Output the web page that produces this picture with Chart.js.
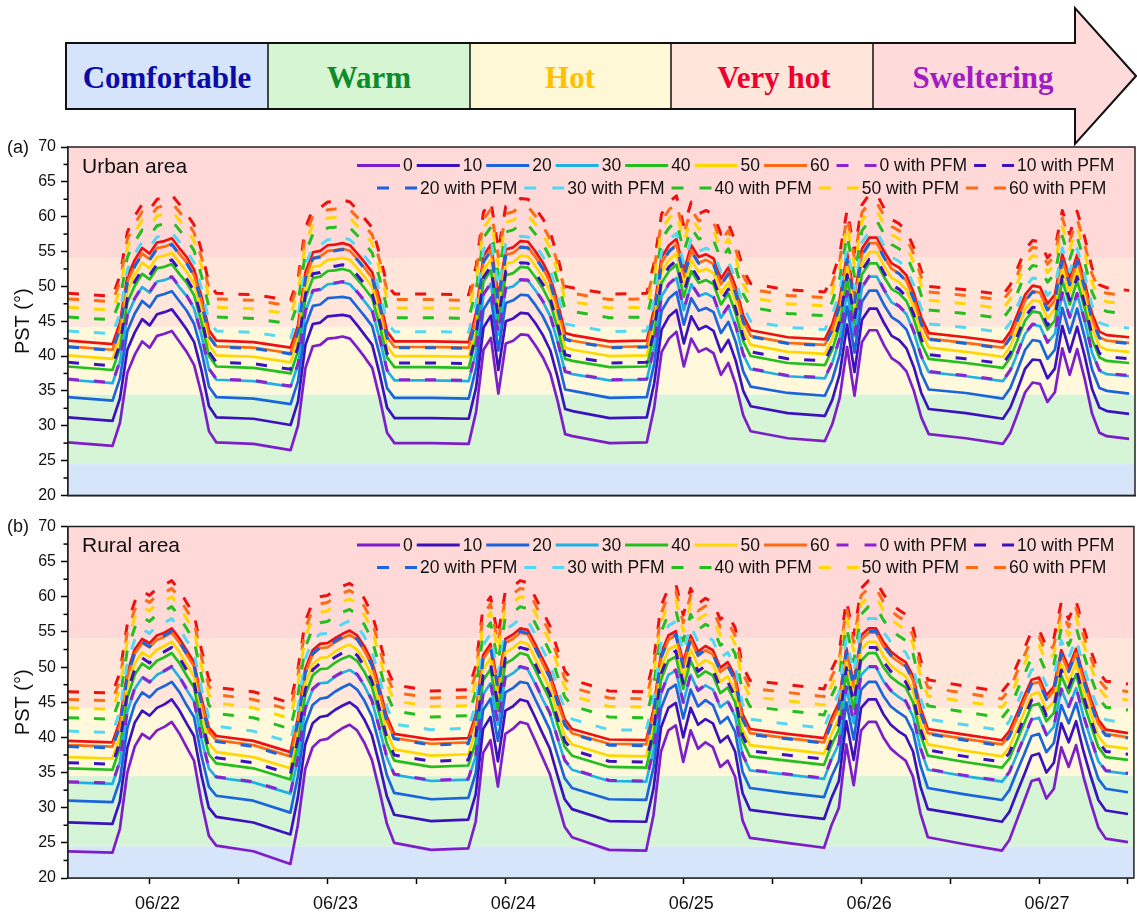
<!DOCTYPE html>
<html>
<head>
<meta charset="utf-8">
<title>PST urban / rural</title>
<script src="https://cdn.jsdelivr.net/npm/chart.js@4.4.1/dist/chart.umd.min.js"></script>
<style>
  html, body { margin: 0; padding: 0; background: #fff; }
  #page { position: relative; width: 1137px; height: 918px; overflow: hidden; font-family: "Liberation Sans", Arial, sans-serif; }
  #banner { position: absolute; left: 0; top: 0; }
  .panel { position: absolute; left: 0; width: 1137px; }
  #wrapA { top: 130px; height: 380px; }
  #wrapB { top: 510px; height: 408px; }
  .tag { position: absolute; left: 7px; font-size: 18px; color: #111; line-height: 21px; }
</style>
</head>
<body>
<div id="page">
  <svg id="banner" width="1137" height="148" xmlns="http://www.w3.org/2000/svg">
    <rect x="66" y="43" width="202" height="66" fill="#D5E4FA"/>
    <rect x="268" y="43" width="202" height="66" fill="#D5F5D3"/>
    <rect x="470" y="43" width="201" height="66" fill="#FFF8D6"/>
    <rect x="671" y="43" width="202" height="66" fill="#FFE6DA"/>
    <polygon points="873,43 1075,43 1075,8 1136,76 1075,144 1075,109 873,109" fill="#FFDADA"/>
    <polygon points="66,43 1075,43 1075,8 1136,76 1075,144 1075,109 66,109" fill="none" stroke="#111" stroke-width="2"/>
    <line x1="268" y1="43" x2="268" y2="109" stroke="#111" stroke-width="1.5"/>
    <line x1="470" y1="43" x2="470" y2="109" stroke="#111" stroke-width="1.5"/>
    <line x1="671" y1="43" x2="671" y2="109" stroke="#111" stroke-width="1.5"/>
    <line x1="873" y1="43" x2="873" y2="109" stroke="#111" stroke-width="1.5"/>
    <g font-family="Liberation Serif, Times New Roman, serif" font-weight="bold" font-size="31" text-anchor="middle">
      <text x="167" y="88" fill="#0B0BA8">Comfortable</text>
      <text x="369" y="88" fill="#0E8B2B">Warm</text>
      <text x="570" y="88" fill="#FFC000">Hot</text>
      <text x="774" y="88" fill="#EE0030">Very hot</text>
      <text x="983" y="88" fill="#A21CC4">Sweltering</text>
    </g>
  </svg>
  <div class="panel" id="wrapA"><canvas id="chartA"></canvas></div>
  <div class="panel" id="wrapB"><canvas id="chartB"></canvas></div>
  <div class="tag" style="top:137px">(a)</div>
  <div class="tag" style="top:516px">(b)</div>
</div>

<script>
// hours since 06/22 00:00 (hourly in daytime, sparse at night)
const hours = [1,
  7,8,9,10,11,12,13,14,15,16,17,18,19,20,21,26,
  31,32,33,34,35,36,37,38,39,40,41,42,43,44,45,50,
  55,56,57,58,59,60,61,62,63,64,65,66,67,68,69,74,
  79,80,81,82,83,84,85,86,87,88,89,90,91,92,93,98,
  103,104,105,106,107,108,109,110,111,112,113,114,115,116,117,122,
  127,128,129,130,131,132,133,134,135,136,137,138,139,140,141,144];

const dayLabels = ['06/22', '06/23', '06/24', '06/25', '06/26', '06/27'];
const levelNames = ['0', '10', '20', '30', '40', '50', '60', '70'];
const bandEdges = [20, 24.5, 34.5, 44.2, 54.1, 70];

// ---- (a) Urban area ----
const urban0 = [27.6, 27.1,30.4,37.6,40.2,42.1,41.2,42.9,43.2,43.6,42.1,40.6,38.7,34.5,29.2,27.6,27.4,
  26.5,30.0,38.3,41.4,41.6,42.5,42.6,42.8,42.5,41.2,39.8,38.3,34.0,29.0,27.5,27.5,
  27.4,32.0,40.9,42.6,34.6,41.8,42.2,43.1,43.0,41.5,39.8,37.5,33.5,28.8,28.5,27.5,
  27.6,32.6,40.6,42.5,43.5,38.5,42.5,40.6,41.1,40.4,37.3,39.0,35.9,31.5,29.2,28.2,
  27.8,30.2,34.0,41.3,34.3,42.0,43.7,43.7,41.5,39.7,39.0,37.8,35.0,31.2,28.8,28.2,
  27.4,29.0,31.8,34.8,36.2,36.0,33.4,34.8,41.1,37.3,41.0,36.8,31.8,29.0,28.5,28.1];
const urban10 = [31.2, 30.7,33.9,40.9,43.4,45.3,44.4,46.0,46.3,46.7,45.3,43.8,42.0,37.9,32.8,31.2,31.0,
  30.1,33.5,41.6,44.6,44.8,45.7,45.8,45.9,45.7,44.4,43.0,41.6,37.4,32.6,31.1,31.1,
  31.0,35.5,44.1,45.8,38.0,45.0,45.4,46.2,46.1,44.7,43.0,40.8,36.9,32.4,32.1,31.1,
  31.2,36.1,43.8,45.7,46.6,41.8,45.7,43.8,44.3,43.6,40.6,42.3,39.3,35.0,32.8,31.8,
  31.4,33.7,37.4,44.5,37.7,45.2,46.8,46.8,44.7,42.9,42.3,41.1,38.4,34.7,32.4,31.8,
  31.0,32.6,35.3,38.2,39.5,39.4,36.8,38.2,44.3,40.6,44.2,40.1,35.3,32.6,32.1,31.7];
const urban20 = [34.1, 33.6,36.8,43.6,46.1,47.9,47.0,48.6,48.9,49.3,47.9,46.5,44.6,40.7,35.6,34.1,33.9,
  33.1,36.4,44.3,47.2,47.4,48.3,48.4,48.5,48.3,47.0,45.7,44.3,40.2,35.4,34.0,34.0,
  33.9,38.3,46.7,48.4,40.8,47.6,48.0,48.8,48.7,47.3,45.7,43.5,39.7,35.2,35.0,34.0,
  34.1,38.9,46.5,48.3,49.2,44.5,48.3,46.5,46.9,46.3,43.3,44.9,42.0,37.8,35.6,34.7,
  34.3,36.6,40.2,47.1,40.5,47.8,49.4,49.4,47.3,45.6,44.9,43.8,41.1,37.5,35.2,34.7,
  33.9,35.4,38.1,40.9,42.3,42.1,39.6,40.9,46.9,43.3,46.8,42.8,38.1,35.4,35.0,34.6];
const urban30 = [36.6, 36.1,39.2,45.8,48.2,49.9,49.1,50.7,50.9,51.3,49.9,48.6,46.8,42.9,38.1,36.6,36.4,
  35.6,38.8,46.4,49.3,49.5,50.3,50.4,50.6,50.3,49.1,47.8,46.4,42.5,37.9,36.5,36.5,
  36.4,40.6,48.8,50.4,43.0,49.7,50.0,50.9,50.8,49.4,47.8,45.7,42.0,37.7,37.4,36.5,
  36.6,41.2,48.6,50.3,51.2,46.6,50.3,48.6,49.0,48.4,45.5,47.1,44.2,40.2,38.1,37.1,
  36.8,39.0,42.5,49.2,42.8,49.8,51.4,51.4,49.4,47.7,47.1,46.0,43.4,39.9,37.7,37.1,
  36.4,37.9,40.5,43.2,44.5,44.3,41.9,43.2,49.0,45.5,48.9,45.1,40.5,37.9,37.4,37.1];
const urban40 = [38.5, 38.0,41.1,47.7,50.1,51.8,51.0,52.6,52.8,53.2,51.8,50.5,48.7,44.8,40.0,38.5,38.3,
  37.5,40.7,48.3,51.2,51.4,52.2,52.3,52.5,52.2,51.0,49.7,48.3,44.4,39.8,38.4,38.4,
  38.3,42.5,50.7,52.3,44.9,51.6,51.9,52.8,52.7,51.3,49.7,47.6,43.9,39.6,39.3,38.4,
  38.5,43.1,50.5,52.2,53.1,48.5,52.2,50.5,50.9,50.3,47.4,49.0,46.1,42.1,40.0,39.0,
  38.7,40.9,44.4,51.1,44.7,51.7,53.3,53.3,51.3,49.6,49.0,47.9,45.3,41.8,39.6,39.0,
  38.3,39.8,42.4,45.1,46.4,46.2,43.8,45.1,50.9,47.4,50.8,47.0,42.4,39.8,39.3,39.0];
const urban50 = [40.1, 39.6,42.7,49.3,51.7,53.4,52.6,54.2,54.4,54.8,53.4,52.1,50.3,46.4,41.6,40.1,39.9,
  39.1,42.3,49.9,52.8,53.0,53.8,53.9,54.1,53.8,52.6,51.3,49.9,46.0,41.4,40.0,40.0,
  39.9,44.1,52.3,53.9,46.5,53.2,53.5,54.4,54.3,52.9,51.3,49.2,45.5,41.2,40.9,40.0,
  40.1,44.7,52.1,53.8,54.7,50.1,53.8,52.1,52.5,51.9,49.0,50.6,47.7,43.7,41.6,40.6,
  40.3,42.5,46.0,52.7,46.3,53.3,54.9,54.9,52.9,51.2,50.6,49.5,46.9,43.4,41.2,40.6,
  39.9,41.4,44.0,46.7,48.0,47.8,45.4,46.7,52.5,49.0,52.4,48.6,44.0,41.4,40.9,40.6];
const urban60 = [41.4, 40.9,44.0,50.6,53.0,54.7,53.9,55.5,55.7,56.1,54.7,53.4,51.6,47.7,42.9,41.4,41.2,
  40.4,43.6,51.2,54.1,54.3,55.1,55.2,55.4,55.1,53.9,52.6,51.2,47.3,42.7,41.3,41.3,
  41.2,45.4,53.6,55.2,47.8,54.5,54.8,55.7,55.6,54.2,52.6,50.5,46.8,42.5,42.2,41.3,
  41.4,46.0,53.4,55.1,56.0,51.4,55.1,53.4,53.8,53.2,50.3,51.9,49.0,45.0,42.9,41.9,
  41.6,43.8,47.3,54.0,47.6,54.6,56.2,56.2,54.2,52.5,51.9,50.8,48.2,44.7,42.5,41.9,
  41.2,42.7,45.3,48.0,49.3,49.1,46.7,48.0,53.8,50.3,53.7,49.9,45.3,42.7,42.2,41.9];
const urban70 = [42.2, 41.7,44.8,51.4,53.8,55.5,54.7,56.3,56.5,56.9,55.5,54.2,52.4,48.5,43.7,42.2,42.0,
  41.2,44.4,52.0,54.9,55.1,55.9,56.0,56.2,55.9,54.7,53.4,52.0,48.1,43.5,42.1,42.1,
  42.0,46.2,54.4,56.0,48.6,55.3,55.6,56.5,56.4,55.0,53.4,51.3,47.6,43.3,43.0,42.1,
  42.2,46.8,54.2,55.9,56.8,52.2,55.9,54.2,54.6,54.0,51.1,52.7,49.8,45.8,43.7,42.7,
  42.4,44.6,48.1,54.8,48.4,55.4,57.0,57.0,55.0,53.3,52.7,51.6,49.0,45.5,43.3,42.7,
  42.0,43.5,46.1,48.8,50.1,49.9,47.5,48.8,54.6,51.1,54.5,50.7,46.1,43.5,43.0,42.7];
const urban0pfm = [36.7, 36.2,39.3,45.9,48.3,50.0,49.2,50.8,51.0,51.4,50.0,48.7,46.9,43.0,38.2,36.7,36.5,
  35.7,38.9,46.5,49.4,49.6,50.4,50.5,50.7,50.4,49.2,47.9,46.5,42.6,38.0,36.6,36.6,
  36.5,40.7,48.9,50.5,43.1,49.8,50.1,51.0,50.9,49.5,47.9,45.8,42.1,37.8,37.5,36.6,
  36.7,41.3,48.7,50.4,51.3,46.7,50.4,48.7,49.1,48.5,45.6,47.2,44.3,40.3,38.2,37.2,
  36.9,39.1,42.6,49.3,42.9,49.9,51.5,51.5,49.5,47.8,47.2,46.1,43.5,40.0,37.8,37.2,
  36.5,38.0,40.6,43.3,44.6,44.4,42.0,43.3,49.1,45.6,49.0,45.2,40.6,38.0,37.5,37.2];
const urban10pfm = [39.1, 38.6,41.7,48.3,50.7,52.4,51.6,53.2,53.4,53.8,52.4,51.1,49.3,45.4,40.6,39.1,38.9,
  38.1,41.3,48.9,51.8,52.0,52.8,52.9,53.1,52.8,51.6,50.3,48.9,45.0,40.4,39.0,39.0,
  38.9,43.1,51.3,52.9,45.5,52.2,52.5,53.4,53.3,51.9,50.3,48.2,44.5,40.2,39.9,39.0,
  39.1,43.7,51.1,52.8,53.7,49.1,52.8,51.1,51.5,50.9,48.0,49.6,46.7,42.7,40.6,39.6,
  39.3,41.5,45.0,51.7,45.3,52.3,53.9,53.9,51.9,50.2,49.6,48.5,45.9,42.4,40.2,39.6,
  38.9,40.4,43.0,45.7,47.0,46.8,44.4,45.7,51.5,48.0,51.4,47.6,43.0,40.4,39.9,39.6];
const urban20pfm = [41.3, 40.8,43.9,50.5,52.9,54.6,53.8,55.4,55.6,56.0,54.6,53.3,51.5,47.6,42.8,41.3,41.1,
  40.3,43.5,51.1,54.0,54.2,55.0,55.1,55.3,55.0,53.8,52.5,51.1,47.2,42.6,41.2,41.2,
  41.1,45.3,53.5,55.1,47.7,54.4,54.7,55.6,55.5,54.1,52.5,50.4,46.7,42.4,42.1,41.2,
  41.3,45.9,53.3,55.0,55.9,51.3,55.0,53.3,53.7,53.1,50.2,51.8,48.9,44.9,42.8,41.8,
  41.5,43.7,47.2,53.9,47.5,54.5,56.1,56.1,54.1,52.4,51.8,50.7,48.1,44.6,42.4,41.8,
  41.1,42.6,45.2,47.9,49.2,49.0,46.6,47.9,53.7,50.2,53.6,49.8,45.2,42.6,42.1,41.8];
const urban30pfm = [43.6, 43.2,46.1,52.4,54.7,56.4,55.6,57.1,57.3,57.7,56.4,55.0,53.4,49.7,45.0,43.6,43.4,
  42.6,45.7,53.0,55.7,55.9,56.7,56.8,57.0,56.7,55.6,54.3,53.0,49.2,44.8,43.5,43.5,
  43.4,47.5,55.3,56.8,49.8,56.1,56.4,57.2,57.1,55.8,54.3,52.3,48.8,44.6,44.4,43.5,
  43.6,48.0,55.0,56.7,57.6,53.2,56.7,55.0,55.5,54.9,52.1,53.6,50.9,47.0,45.0,44.1,
  43.8,45.9,49.2,55.6,49.5,56.3,57.8,57.8,55.8,54.2,53.6,52.6,50.1,46.8,44.6,44.1,
  43.4,44.8,47.3,49.9,51.2,51.0,48.7,49.9,55.5,52.1,55.4,51.7,47.3,44.8,44.4,44.0];
const urban40pfm = [45.6, 45.2,48.0,54.2,56.4,58.1,57.3,58.7,59.0,59.4,58.1,56.8,55.1,51.5,47.0,45.6,45.4,
  44.6,47.7,54.8,57.5,57.6,58.4,58.5,58.7,58.4,57.3,56.1,54.8,51.1,46.8,45.5,45.5,
  45.4,49.4,57.0,58.5,51.6,57.8,58.1,58.9,58.8,57.5,56.1,54.1,50.7,46.6,46.4,45.5,
  45.6,49.9,56.8,58.4,59.3,55.0,58.4,56.8,57.2,56.6,53.9,55.4,52.7,48.9,47.0,46.1,
  45.8,47.8,51.1,57.4,51.4,58.0,59.4,59.4,57.5,56.0,55.4,54.4,52.0,48.7,46.6,46.1,
  45.4,46.8,49.2,51.8,53.0,52.8,50.6,51.8,57.2,53.9,57.1,53.5,49.2,46.8,46.4,46.0];
const urban50pfm = [47.0, 46.6,49.4,55.6,57.8,59.5,58.7,60.1,60.4,60.8,59.5,58.2,56.5,52.9,48.4,47.0,46.8,
  46.0,49.1,56.2,58.9,59.0,59.8,59.9,60.1,59.8,58.7,57.5,56.2,52.5,48.2,46.9,46.9,
  46.8,50.8,58.4,59.9,53.0,59.2,59.5,60.3,60.2,58.9,57.5,55.5,52.1,48.0,47.8,46.9,
  47.0,51.3,58.2,59.8,60.7,56.4,59.8,58.2,58.6,58.0,55.3,56.8,54.1,50.3,48.4,47.5,
  47.2,49.2,52.5,58.8,52.8,59.4,60.8,60.8,58.9,57.4,56.8,55.8,53.4,50.1,48.0,47.5,
  46.8,48.2,50.6,53.2,54.4,54.2,52.0,53.2,58.6,55.3,58.5,54.9,50.6,48.2,47.8,47.4];
const urban60pfm = [48.2, 47.8,50.6,56.8,59.0,60.7,59.9,61.3,61.6,62.0,60.7,59.4,57.7,54.1,49.6,48.2,48.0,
  47.2,50.3,57.4,60.1,60.2,61.0,61.1,61.3,61.0,59.9,58.7,57.4,53.7,49.4,48.1,48.1,
  48.0,52.0,59.6,61.1,54.2,60.4,60.7,61.5,61.4,60.1,58.7,56.7,53.3,49.2,49.0,48.1,
  48.2,52.5,59.4,61.0,61.9,57.6,61.0,59.4,59.8,59.2,56.5,58.0,55.3,51.5,49.6,48.7,
  48.4,50.4,53.7,60.0,54.0,60.6,62.0,62.0,60.1,58.6,58.0,57.0,54.6,51.3,49.2,48.7,
  48.0,49.4,51.8,54.4,55.6,55.4,53.2,54.4,59.8,56.5,59.7,56.1,51.8,49.4,49.0,48.6];
const urban70pfm = [49.0, 48.6,51.5,57.8,60.1,61.8,61.0,62.5,62.7,63.1,61.8,60.4,58.8,55.1,50.4,49.0,48.8,
  48.0,51.1,58.4,61.1,61.3,62.1,62.2,62.4,62.1,61.0,59.7,58.4,54.6,50.2,48.9,48.9,
  48.8,52.9,60.7,62.2,55.2,61.5,61.8,62.6,62.5,61.2,59.7,57.7,54.2,50.0,49.8,48.9,
  49.0,53.4,60.4,62.1,63.0,58.6,62.1,60.4,60.9,60.3,57.5,59.0,56.3,52.4,50.4,49.5,
  49.2,51.3,54.6,61.0,54.9,61.7,63.2,63.2,61.2,59.6,59.0,58.0,55.5,52.2,50.0,49.5,
  48.8,50.2,52.7,55.3,56.6,56.4,54.1,55.3,60.9,57.5,60.8,57.1,52.7,50.2,49.8,49.4];

// ---- (b) Rural area ----
const rural0 = [23.8, 23.6,27.0,35.0,38.7,40.5,39.8,41.0,41.5,42.2,40.6,38.6,36.7,30.8,26.0,24.6,23.8,
  22.0,27.5,35.5,38.6,39.6,39.8,40.6,41.3,41.8,41.0,39.2,36.8,32.5,27.8,25.0,24.0,
  24.2,28.0,37.8,39.6,33.0,40.5,41.2,42.2,41.9,39.6,37.2,34.8,31.0,27.3,25.8,24.0,
  23.9,29.0,38.0,41.0,41.7,36.5,41.0,38.4,39.3,38.6,35.8,36.7,34.4,28.2,25.7,25.0,
  24.3,27.5,30.0,39.0,33.2,41.0,42.2,42.2,40.0,38.4,37.5,36.7,34.4,29.2,25.8,24.8,
  23.9,25.4,28.2,31.0,33.8,34.1,31.3,32.7,38.6,35.8,38.9,34.4,30.6,27.2,25.6,25.1];
const rural10 = [27.9, 27.7,30.9,38.5,42.1,43.8,43.1,44.2,44.7,45.4,43.9,42.0,40.2,34.6,30.0,28.7,27.9,
  26.2,31.4,39.0,42.0,42.9,43.1,43.9,44.5,45.0,44.2,42.5,40.3,36.2,31.7,29.0,28.1,
  28.3,31.9,41.2,42.9,36.6,43.8,44.4,45.4,45.1,42.9,40.6,38.4,34.7,31.2,29.8,28.1,
  28.0,32.8,41.4,44.2,44.9,40.0,44.2,41.8,42.6,42.0,39.3,40.2,38.0,32.1,29.7,29.0,
  28.4,31.4,33.8,42.3,36.8,44.2,45.4,45.4,43.3,41.8,40.9,40.2,38.0,33.0,29.8,28.9,
  28.0,29.4,32.1,34.7,37.4,37.7,35.0,36.4,42.0,39.3,42.3,38.0,34.4,31.1,29.6,29.1];
const rural20 = [31.0, 30.8,33.9,41.3,44.7,46.4,45.7,46.8,47.3,47.9,46.5,44.6,42.9,37.4,33.0,31.7,31.0,
  29.3,34.4,41.8,44.6,45.5,45.7,46.5,47.1,47.6,46.8,45.2,43.0,39.0,34.7,32.1,31.2,
  31.4,34.9,43.9,45.5,39.5,46.4,47.0,47.9,47.7,45.5,43.3,41.1,37.6,34.2,32.8,31.2,
  31.1,35.8,44.1,46.8,47.5,42.7,46.8,44.4,45.3,44.6,42.0,42.9,40.8,35.1,32.8,32.1,
  31.5,34.4,36.7,45.0,39.7,46.8,47.9,47.9,45.9,44.4,43.6,42.9,40.8,36.0,32.8,31.9,
  31.1,32.5,35.1,37.6,40.2,40.5,37.9,39.2,44.6,42.0,44.9,40.8,37.3,34.1,32.7,32.2];
const rural30 = [33.6, 33.4,36.5,43.6,46.9,48.5,47.8,48.9,49.4,50.0,48.6,46.8,45.1,39.8,35.6,34.3,33.6,
  32.0,36.9,44.0,46.8,47.7,47.8,48.6,49.2,49.6,48.9,47.3,45.2,41.3,37.2,34.7,33.8,
  34.0,37.3,46.1,47.7,41.8,48.5,49.1,50.0,49.7,47.7,45.5,43.4,40.0,36.7,35.4,33.8,
  33.7,38.2,46.2,48.9,49.5,44.9,48.9,46.6,47.4,46.8,44.3,45.1,43.0,37.5,35.3,34.7,
  34.1,36.9,39.1,47.1,42.0,48.9,50.0,50.0,48.0,46.6,45.8,45.1,43.0,38.4,35.4,34.5,
  33.7,35.0,37.5,40.0,42.5,42.8,40.3,41.5,46.8,44.3,47.0,43.0,39.7,36.6,35.2,34.8];
const rural40 = [35.6, 35.4,38.5,45.6,48.9,50.5,49.8,50.9,51.4,52.0,50.6,48.8,47.1,41.8,37.6,36.3,35.6,
  34.0,38.9,46.0,48.8,49.7,49.8,50.6,51.2,51.6,50.9,49.3,47.2,43.3,39.2,36.7,35.8,
  36.0,39.3,48.1,49.7,43.8,50.5,51.1,52.0,51.7,49.7,47.5,45.4,42.0,38.7,37.4,35.8,
  35.7,40.2,48.2,50.9,51.5,46.9,50.9,48.6,49.4,48.8,46.3,47.1,45.0,39.5,37.3,36.7,
  36.1,38.9,41.1,49.1,44.0,50.9,52.0,52.0,50.0,48.6,47.8,47.1,45.0,40.4,37.4,36.5,
  35.7,37.0,39.5,42.0,44.5,44.8,42.3,43.5,48.8,46.3,49.0,45.0,41.7,38.6,37.2,36.8];
const rural50 = [37.2, 37.0,40.1,47.2,50.5,52.1,51.4,52.5,53.0,53.6,52.2,50.4,48.7,43.4,39.2,37.9,37.2,
  35.6,40.5,47.6,50.4,51.3,51.4,52.2,52.8,53.2,52.5,50.9,48.8,44.9,40.8,38.3,37.4,
  37.6,40.9,49.7,51.3,45.4,52.1,52.7,53.6,53.3,51.3,49.1,47.0,43.6,40.3,39.0,37.4,
  37.3,41.8,49.8,52.5,53.1,48.5,52.5,50.2,51.0,50.4,47.9,48.7,46.6,41.1,38.9,38.3,
  37.7,40.5,42.7,50.7,45.6,52.5,53.6,53.6,51.6,50.2,49.4,48.7,46.6,42.0,39.0,38.1,
  37.3,38.6,41.1,43.6,46.1,46.4,43.9,45.1,50.4,47.9,50.6,46.6,43.3,40.2,38.8,38.4];
const rural60 = [38.9, 38.7,41.7,48.6,51.9,53.4,52.8,53.9,54.3,54.9,53.5,51.8,50.1,45.0,40.8,39.6,38.9,
  37.3,42.1,49.1,51.8,52.7,52.8,53.5,54.1,54.6,53.9,52.3,50.2,46.5,42.4,39.9,39.1,
  39.3,42.6,51.1,52.7,46.9,53.4,54.0,54.9,54.7,52.7,50.6,48.5,45.2,42.0,40.6,39.1,
  39.0,43.4,51.3,53.9,54.5,50.0,53.9,51.6,52.4,51.8,49.3,50.1,48.1,42.7,40.6,39.9,
  39.3,42.1,44.3,52.1,47.1,53.9,54.9,54.9,53.0,51.6,50.8,50.1,48.1,43.6,40.6,39.8,
  39.0,40.3,42.7,45.2,47.6,47.9,45.4,46.6,51.8,49.3,52.0,48.1,44.8,41.9,40.5,40.0];
const rural70 = [39.5, 39.3,42.3,49.2,52.5,54.0,53.4,54.5,54.9,55.5,54.1,52.4,50.7,45.6,41.4,40.2,39.5,
  37.9,42.7,49.7,52.4,53.3,53.4,54.1,54.7,55.2,54.5,52.9,50.8,47.1,43.0,40.5,39.7,
  39.9,43.2,51.7,53.3,47.5,54.0,54.6,55.5,55.3,53.3,51.2,49.1,45.8,42.6,41.2,39.7,
  39.6,44.0,51.9,54.5,55.1,50.6,54.5,52.2,53.0,52.4,49.9,50.7,48.7,43.3,41.2,40.5,
  39.9,42.7,44.9,52.7,47.7,54.5,55.5,55.5,53.6,52.2,51.4,50.7,48.7,44.2,41.2,40.4,
  39.6,40.9,43.3,45.8,48.2,48.5,46.0,47.2,52.4,49.9,52.6,48.7,45.4,42.5,41.1,40.6];
const rural0pfm = [33.7, 33.5,36.6,43.7,47.0,48.6,47.9,49.0,49.5,50.1,48.7,46.9,45.2,39.9,35.7,34.4,33.7,
  32.1,37.0,44.1,46.9,47.8,47.9,48.7,49.3,49.7,49.0,47.4,45.3,41.4,37.3,34.8,33.9,
  34.1,37.4,46.2,47.8,41.9,48.6,49.2,50.1,49.8,47.8,45.6,43.5,40.1,36.8,35.5,33.9,
  33.8,38.3,46.3,49.0,49.6,45.0,49.0,46.7,47.5,46.9,44.4,45.2,43.1,37.6,35.4,34.8,
  34.2,37.0,39.2,47.2,42.1,49.0,50.1,50.1,48.1,46.7,45.9,45.2,43.1,38.5,35.5,34.6,
  33.8,35.1,37.6,40.1,42.6,42.9,40.4,41.6,46.9,44.4,47.1,43.1,39.8,36.7,35.3,34.9];
const rural10pfm = [36.4, 36.2,39.3,46.4,49.7,51.3,50.6,51.7,52.2,52.8,51.4,49.6,47.9,42.6,38.4,37.1,36.4,
  34.8,39.7,46.8,49.6,50.5,50.6,51.4,52.0,52.4,51.7,50.1,48.0,44.1,40.0,37.5,36.6,
  36.8,40.1,48.9,50.5,44.6,51.3,51.9,52.8,52.5,50.5,48.3,46.2,42.8,39.5,38.2,36.6,
  36.5,41.0,49.0,51.7,52.3,47.7,51.7,49.4,50.2,49.6,47.1,47.9,45.8,40.3,38.1,37.5,
  36.9,39.7,41.9,49.9,44.8,51.7,52.8,52.8,50.8,49.4,48.6,47.9,45.8,41.2,38.2,37.3,
  36.5,37.8,40.3,42.8,45.3,45.6,43.1,44.3,49.6,47.1,49.8,45.8,42.5,39.4,38.0,37.6];
const rural20pfm = [38.7, 38.5,41.6,48.7,52.0,53.6,52.9,54.0,54.5,55.1,53.7,51.9,50.2,44.9,40.7,39.4,38.7,
  37.1,42.0,49.1,51.9,52.8,52.9,53.7,54.3,54.7,54.0,52.4,50.3,46.4,42.3,39.8,38.9,
  39.1,42.4,51.2,52.8,46.9,53.6,54.2,55.1,54.8,52.8,50.6,48.5,45.1,41.8,40.5,38.9,
  38.8,43.3,51.3,54.0,54.6,50.0,54.0,51.7,52.5,51.9,49.4,50.2,48.1,42.6,40.4,39.8,
  39.2,42.0,44.2,52.2,47.1,54.0,55.1,55.1,53.1,51.7,50.9,50.2,48.1,43.5,40.5,39.6,
  38.8,40.1,42.6,45.1,47.6,47.9,45.4,46.6,51.9,49.4,52.1,48.1,44.8,41.7,40.3,39.9];
const rural30pfm = [40.9, 40.7,43.7,50.6,53.9,55.4,54.8,55.9,56.3,56.9,55.5,53.8,52.1,47.0,42.8,41.6,40.9,
  39.3,44.1,51.1,53.8,54.7,54.8,55.5,56.1,56.6,55.9,54.3,52.2,48.5,44.4,41.9,41.1,
  41.3,44.6,53.1,54.7,48.9,55.4,56.0,56.9,56.7,54.7,52.6,50.5,47.2,44.0,42.6,41.1,
  41.0,45.4,53.3,55.9,56.5,52.0,55.9,53.6,54.4,53.8,51.3,52.1,50.1,44.7,42.6,41.9,
  41.3,44.1,46.3,54.1,49.1,55.9,56.9,56.9,55.0,53.6,52.8,52.1,50.1,45.6,42.6,41.8,
  41.0,42.3,44.7,47.2,49.6,49.9,47.4,48.6,53.8,51.3,54.0,50.1,46.8,43.9,42.5,42.0];
const rural40pfm = [42.8, 42.6,45.5,52.4,55.6,57.1,56.5,57.5,58.0,58.6,57.2,55.5,53.8,48.8,44.6,43.4,42.8,
  41.2,45.9,52.8,55.5,56.3,56.5,57.2,57.8,58.2,57.5,56.0,53.9,50.2,46.2,43.8,42.9,
  43.1,46.4,54.8,56.3,50.7,57.1,57.7,58.6,58.3,56.3,54.3,52.2,48.9,45.8,44.5,42.9,
  42.8,47.2,55.0,57.5,58.1,53.7,57.5,55.3,56.1,55.5,53.1,53.8,51.9,46.5,44.4,43.8,
  43.2,45.9,48.1,55.8,50.8,57.5,58.6,58.6,56.7,55.3,54.5,53.8,51.9,47.4,44.5,43.6,
  42.8,44.1,46.5,48.9,51.4,51.6,49.2,50.4,55.5,53.1,55.7,51.9,48.6,45.7,44.3,43.9];
const rural50pfm = [44.2, 44.0,47.0,53.8,57.0,58.6,58.0,59.0,59.4,60.0,58.7,56.9,55.3,50.2,46.1,44.9,44.2,
  42.7,47.4,54.3,56.9,57.8,58.0,58.7,59.3,59.7,59.0,57.4,55.4,51.7,47.6,45.2,44.4,
  44.5,47.8,56.2,57.8,52.1,58.6,59.2,60.0,59.8,57.8,55.7,53.7,50.4,47.2,45.9,44.4,
  44.3,48.7,56.4,59.0,59.6,55.1,59.0,56.8,57.5,56.9,54.5,55.3,53.3,48.0,45.8,45.2,
  44.6,47.4,49.5,57.3,52.3,59.0,60.0,60.0,58.1,56.8,56.0,55.3,53.3,48.8,45.9,45.1,
  44.3,45.6,48.0,50.4,52.8,53.1,50.7,51.9,56.9,54.5,57.2,53.3,50.1,47.1,45.8,45.3];
const rural60pfm = [45.4, 45.2,48.2,55.0,58.2,59.8,59.2,60.2,60.6,61.2,59.9,58.1,56.5,51.4,47.3,46.1,45.4,
  43.9,48.6,55.5,58.1,59.0,59.2,59.9,60.5,60.9,60.2,58.6,56.6,52.9,48.8,46.4,45.6,
  45.7,49.0,57.4,59.0,53.3,59.8,60.4,61.2,61.0,59.0,56.9,54.9,51.6,48.4,47.1,45.6,
  45.5,49.9,57.6,60.2,60.8,56.3,60.2,58.0,58.7,58.1,55.7,56.5,54.5,49.2,47.0,46.4,
  45.8,48.6,50.7,58.5,53.5,60.2,61.2,61.2,59.3,58.0,57.2,56.5,54.5,50.0,47.1,46.3,
  45.5,46.8,49.2,51.6,54.0,54.3,51.9,53.1,58.1,55.7,58.4,54.5,51.3,48.3,47.0,46.5];
const rural70pfm = [46.5, 46.3,49.2,56.1,59.3,60.8,60.2,61.2,61.7,62.3,60.9,59.2,57.5,52.5,48.3,47.1,46.5,
  44.9,49.6,56.5,59.2,60.0,60.2,60.9,61.5,61.9,61.2,59.7,57.6,53.9,49.9,47.5,46.6,
  46.8,50.1,58.5,60.0,54.4,60.8,61.4,62.3,62.0,60.0,58.0,55.9,52.6,49.5,48.2,46.6,
  46.5,50.9,58.7,61.2,61.8,57.4,61.2,59.0,59.8,59.2,56.8,57.5,55.6,50.2,48.1,47.5,
  46.9,49.6,51.8,59.5,54.5,61.2,62.3,62.3,60.4,59.0,58.2,57.5,55.6,51.1,48.2,47.3,
  46.5,47.8,50.2,52.6,55.1,55.3,52.9,54.1,59.2,56.8,59.4,55.6,52.3,49.4,48.0,47.6];

// styles
const family = '"Liberation Sans", Arial, Helvetica, sans-serif';
const solidColors = ['#7D1EC8', '#3C12BE', '#1A64DC', '#1FB1E4', '#22BF1F', '#FFD600', '#FF6A14', '#EE1111'];
const dashColors  = ['#8A24D0', '#3C12BE', '#1A64DC', '#52D8F5', '#22BF1F', '#FFD600', '#FF6A14', '#EE1111'];
const bandColors  = ['#D6E5FA', '#D6F4D6', '#FFF8DA', '#FFE5DA', '#FFD9D8'];

function makeDatasets(solid, pfm) {
  const sets = [];
  solid.forEach((vals, k) => sets.push({
    label: levelNames[k],
    data: hours.map((h, i) => ({ x: h, y: vals[i] })),
    borderColor: solidColors[k],
    borderWidth: 2.7,
    pointRadius: 0,
    borderJoinStyle: 'round',
    order: 1,
    inLegend: k < 7
  }));
  pfm.forEach((vals, k) => sets.push({
    label: levelNames[k] + ' with PFM',
    data: hours.map((h, i) => ({ x: h, y: vals[i] })),
    borderColor: dashColors[k],
    borderWidth: 3,
    borderDash: [11, 15],
    pointRadius: 0,
    borderJoinStyle: 'round',
    order: 0,
    inLegend: k < 7
  }));
  return sets;
}

// bands, legend, frame, minor ticks
const panelDecor = {
  id: 'panelDecor',
  beforeDatasetsDraw(chart) {
    const { ctx, chartArea: a, scales: { y } } = chart;
    ctx.save();
    for (let i = 0; i < bandColors.length; i++) {
      const top = y.getPixelForValue(bandEdges[i + 1]);
      const bot = y.getPixelForValue(bandEdges[i]);
      ctx.fillStyle = bandColors[i];
      ctx.fillRect(a.left, top, a.right - a.left, bot - top);
    }
    ctx.restore();
  },
  afterDatasetsDraw(chart, args, opts) {
    const { ctx, chartArea: a, scales: { y } } = chart;
    ctx.save();

    // area name
    ctx.fillStyle = '#111';
    ctx.font = '21px ' + family;
    ctx.textBaseline = 'middle';
    ctx.fillText(opts.name, a.left + 14, a.top + 20);

    // legend, two rows
    const items = chart.data.datasets.filter(d => d.inLegend);
    const rows = [items.slice(0, 9), items.slice(9)];
    const rowX = [357, 374];
    const rowY = [a.top + 18.5, a.top + 41];
    ctx.font = '17.5px ' + family;
    rows.forEach((row, r) => {
      let x = rowX[r];
      row.forEach(ds => {
        ctx.beginPath();
        ctx.strokeStyle = ds.borderColor;
        ctx.lineWidth = 3;
        if (ds.borderDash) { ctx.setLineDash([12, 16]); ctx.lineDashOffset = -3; }
        else ctx.setLineDash([]);
        ctx.moveTo(x, rowY[r]);
        ctx.lineTo(x + 43, rowY[r]);
        ctx.stroke();
        ctx.setLineDash([]);
        ctx.fillStyle = '#111';
        ctx.fillText(ds.label, x + 46, rowY[r] + 1);
        x += 46 + ctx.measureText(ds.label).width + 4;
      });
    });

    // frame
    ctx.strokeStyle = '#222';
    ctx.lineWidth = 1.5;
    ctx.strokeRect(a.left, a.top, a.right - a.left, a.bottom - a.top);

    // minor y ticks
    ctx.strokeStyle = '#000';
    for (let v = 22.5; v < 70; v += 5) {
      const py = y.getPixelForValue(v);
      ctx.beginPath();
      ctx.moveTo(a.left - 4.5, py);
      ctx.lineTo(a.left, py);
      ctx.stroke();
    }
    ctx.restore();
  }
};

function makeOptions(name, showX, padTop) {
  return {
    responsive: true,
    maintainAspectRatio: false,
    animation: false,
    devicePixelRatio: 1,
    layout: { padding: { top: padTop, right: 2, left: 0, bottom: 0 } },
    plugins: {
      legend: { display: false },
      tooltip: { enabled: false },
      panelDecor: { name: name }
    },
    scales: {
      x: {
        type: 'linear',
        min: 1,
        max: 144.8,
        afterBuildTicks: s => {
          s.ticks = [];
          for (let h = 12; h <= 144; h += 12) s.ticks.push({ value: h });
        },
        afterFit: s => { s.height = showX ? 40 : 11; },
        grid: { display: showX, drawOnChartArea: false, drawTicks: true, tickLength: 6, color: '#000', tickWidth: 1.5 },
        border: { display: true, color: '#222', width: 1.5 },
        ticks: {
          display: showX,
          autoSkip: false,
          maxRotation: 0,
          padding: 9,
          labelOffset: 8,
          color: '#111',
          font: { size: 18, family: family },
          callback: v => ((v - 12) % 24 === 0 ? dayLabels[(v - 12) / 24] : '')
        }
      },
      y: {
        min: 20,
        max: 70,
        afterFit: s => { s.width = 68; },
        ticks: { stepSize: 5, padding: 5, color: '#111', font: { size: 16, family: family } },
        grid: { drawOnChartArea: false, tickLength: 7, color: '#000', tickWidth: 1.5 },
        border: { color: '#222', width: 1.5 },
        title: {
          display: true,
          text: 'PST (°)',
          color: '#111',
          font: { size: 20, family: family },
          padding: { top: 11, bottom: 0 }
        }
      }
    }
  };
}

new Chart(document.getElementById('chartA'), {
  type: 'line',
  data: { datasets: makeDatasets(
    [urban0, urban10, urban20, urban30, urban40, urban50, urban60, urban70],
    [urban0pfm, urban10pfm, urban20pfm, urban30pfm, urban40pfm, urban50pfm, urban60pfm, urban70pfm]) },
  options: makeOptions('Urban area', false, 17),
  plugins: [panelDecor]
});

new Chart(document.getElementById('chartB'), {
  type: 'line',
  data: { datasets: makeDatasets(
    [rural0, rural10, rural20, rural30, rural40, rural50, rural60, rural70],
    [rural0pfm, rural10pfm, rural20pfm, rural30pfm, rural40pfm, rural50pfm, rural60pfm, rural70pfm]) },
  options: makeOptions('Rural area', true, 16.5),
  plugins: [panelDecor]
});
</script>
</body>
</html>
